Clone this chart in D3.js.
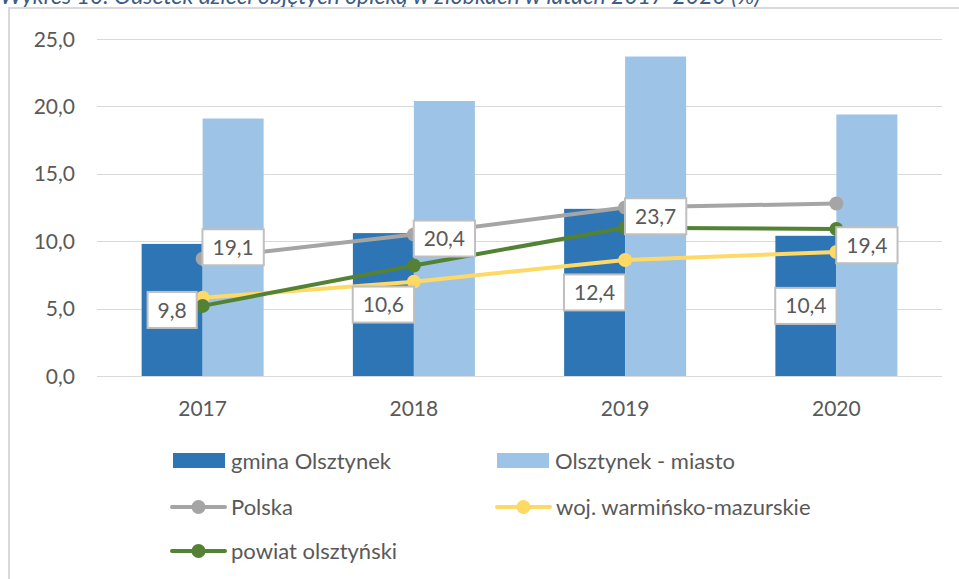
<!DOCTYPE html>
<html>
<head>
<meta charset="utf-8">
<script src="https://cdn.jsdelivr.net/npm/d3@7"></script>
<style>
  body { margin: 0; background: #fff; }
  svg { display: block; font-family: Lato, "Open Sans", sans-serif; }
</style>
</head>
<body>
<svg width="959" height="579"></svg>
<script>
// data
const years = ["2017", "2018", "2019", "2020"];
const gmina = [9.8, 10.6, 12.4, 10.4];
const miasto = [19.1, 20.4, 23.7, 19.4];
const polska = [8.7, 10.5, 12.5, 12.8];
const woj = [5.8, 7.0, 8.6, 9.2];
const powiat = [5.2, 8.2, 11.0, 10.9];
const yTicks = [0, 5, 10, 15, 20, 25];

const barSeries = [
  {name: "gmina Olsztynek", values: gmina, color: "#2E75B6"},
  {name: "Olsztynek - miasto", values: miasto, color: "#9DC3E6"}
];
const lineSeries = [
  {name: "Polska", values: polska, color: "#A5A5A5"},
  {name: "woj. warmińsko-mazurskie", values: woj, color: "#FFD966"},
  {name: "powiat olsztyński", values: powiat, color: "#548235"}
];

const svg = d3.select("svg");
const fmt = v => d3.format(".1f")(v).replace(".", ",");

// title, cut off at top like in the source
svg.append("text")
  .attr("x", 0)
  .attr("y", 4)
  .attr("font-style", "italic")
  .attr("font-size", 23)
  .attr("fill", "#3D5B85")
  .text("Wykres 10. Odsetek dzieci objętych opieką w żłobkach w latach 2017-2020 (%)");

// frame of chart area
svg.append("path")
  .attr("d", "M9,579 V8 H959")
  .attr("fill", "none")
  .attr("stroke", "#D9D9D9")
  .attr("stroke-width", 2);

const x = d3.scaleBand().domain(years).range([97, 942]).padding(0);
const y = d3.scaleLinear().domain([0, 25]).range([376, 39]);
const bw = x.bandwidth();
const barW = 61;
const x1 = d3.scaleBand().domain(barSeries.map(s => s.name))
  .range([bw / 2 - barW, bw / 2 + barW]);

// gridlines
svg.append("g")
  .selectAll("line")
  .data(yTicks)
  .join("line")
  .attr("x1", 97).attr("x2", 942)
  .attr("y1", d => Math.round(y(d)) + 0.5)
  .attr("y2", d => Math.round(y(d)) + 0.5)
  .attr("stroke", "#D9D9D9")
  .attr("stroke-width", 1);

// y axis labels
svg.append("g")
  .selectAll("text")
  .data(yTicks)
  .join("text")
  .attr("x", 75)
  .attr("y", d => y(d))
  .attr("dy", "0.36em")
  .attr("text-anchor", "end")
  .attr("font-size", 21)
  .attr("fill", "#595959")
  .text(d => fmt(d));

// x axis labels
svg.append("g")
  .selectAll("text")
  .data(years)
  .join("text")
  .attr("x", d => x(d) + bw / 2)
  .attr("y", 408)
  .attr("dy", "0.36em")
  .attr("text-anchor", "middle")
  .attr("font-size", 21)
  .attr("fill", "#595959")
  .text(d => d);

// bars
barSeries.forEach(s => {
  svg.append("g")
    .selectAll("rect")
    .data(s.values)
    .join("rect")
    .attr("x", (d, i) => x(years[i]) + x1(s.name))
    .attr("y", d => y(d))
    .attr("width", x1.bandwidth())
    .attr("height", d => y(0) - y(d))
    .attr("fill", s.color);
});

// lines
const line = d3.line()
  .x((d, i) => x(years[i]) + bw / 2)
  .y(d => y(d));

lineSeries.forEach(s => {
  const g = svg.append("g");
  g.append("path")
    .attr("d", line(s.values))
    .attr("fill", "none")
    .attr("stroke", s.color)
    .attr("stroke-width", 4)
    .attr("stroke-linejoin", "round")
    .attr("stroke-linecap", "round");
  g.selectAll("circle")
    .data(s.values)
    .join("circle")
    .attr("cx", (d, i) => x(years[i]) + bw / 2)
    .attr("cy", d => y(d))
    .attr("r", 7)
    .attr("fill", s.color);
});

// data labels for bars (boxed, centered in bar)
barSeries.forEach(s => {
  s.values.forEach((v, i) => {
    const cx = x(years[i]) + x1(s.name) + x1.bandwidth() / 2;
    const cy = (y(v) + y(0)) / 2;
    const g = svg.append("g");
    const t = g.append("text")
      .attr("x", cx)
      .attr("y", cy)
      .attr("dy", "0.36em")
      .attr("text-anchor", "middle")
      .attr("font-size", 21)
      .attr("fill", "#595959")
      .text(fmt(v));
    const w = t.node().getComputedTextLength() + 20;
    g.insert("rect", "text")
      .attr("x", cx - w / 2)
      .attr("y", cy - 18)
      .attr("width", w)
      .attr("height", 36)
      .attr("fill", "#fff")
      .attr("stroke", "#BFBFBF")
      .attr("stroke-width", 2);
  });
});

// legend
const legend = svg.append("g");
const legendItems = [
  {s: barSeries[0], type: "bar", lx: 173, ly: 461},
  {s: barSeries[1], type: "bar", lx: 497, ly: 461},
  {s: lineSeries[0], type: "line", lx: 172, ly: 507},
  {s: lineSeries[1], type: "line", lx: 497, ly: 507},
  {s: lineSeries[2], type: "line", lx: 172, ly: 551}
];
legendItems.forEach(it => {
  if (it.type === "bar") {
    legend.append("rect")
      .attr("x", it.lx).attr("y", it.ly - 8)
      .attr("width", 52).attr("height", 15)
      .attr("fill", it.s.color);
  } else {
    legend.append("line")
      .attr("x1", it.lx).attr("x2", it.lx + 53)
      .attr("y1", it.ly).attr("y2", it.ly)
      .attr("stroke", it.s.color).attr("stroke-width", 4)
      .attr("stroke-linecap", "round");
    legend.append("circle")
      .attr("cx", it.lx + 26.5).attr("cy", it.ly).attr("r", 7)
      .attr("fill", it.s.color);
  }
  legend.append("text")
    .attr("x", it.lx + (it.type === "bar" ? 58 : 59))
    .attr("y", it.ly)
    .attr("dy", "0.36em")
    .attr("font-size", 22)
    .attr("fill", "#595959")
    .text(it.s.name);
});
</script>
</body>
</html>
